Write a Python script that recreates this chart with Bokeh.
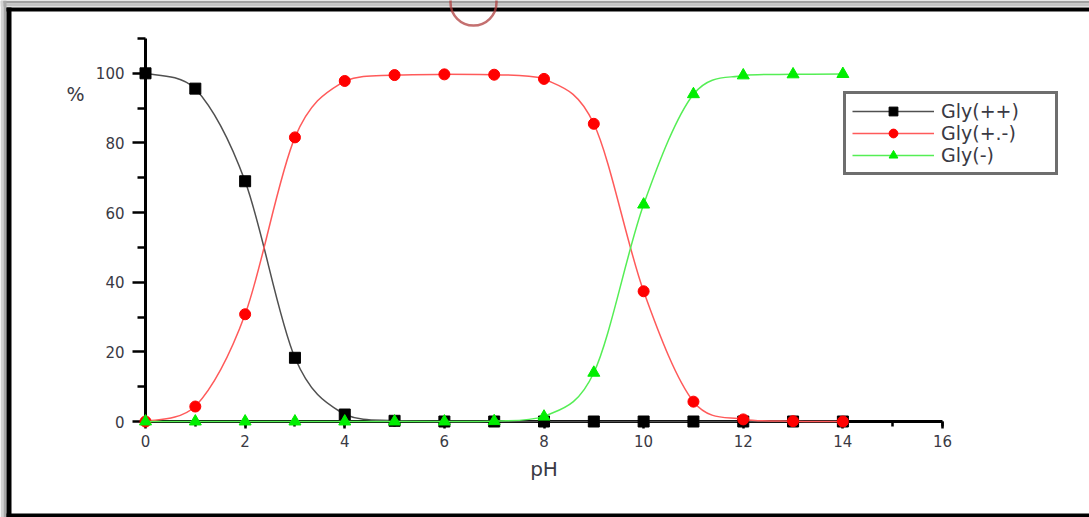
import numpy as np
from bokeh.plotting import figure
from bokeh.models import (Range1d, SingleIntervalTicker, FixedTicker, Legend, LegendItem,
                          Label, BoxAnnotation)
from bokeh.embed import file_html
from bokeh.resources import INLINE

# ---- data ----
ph = [0, 1, 2, 3, 4, 5, 6, 7, 8, 9, 10, 11, 12, 13, 14]
gly_pp = [100, 95.6, 69.0, 18.3, 2.0, 0.2, 0, 0, 0, 0, 0, 0, 0, 0, 0]
gly_zw = [0, 4.3, 30.8, 81.6, 97.8, 99.5, 99.7, 99.6, 98.4, 85.5, 37.4, 5.7, 0.6, 0.1, 0]
gly_m = [0, 0, 0, 0, 0, 0, 0, 0.1, 1.4, 14.0, 62.3, 94.0, 99.4, 99.7, 99.8]
series_names = ["Gly(++)", "Gly(+.-)", "Gly(-)"]
x_major_ticks = [0, 2, 4, 6, 8, 10, 12, 14, 16]
y_major_ticks = [0, 20, 40, 60, 80, 100]
y_minor_ticks = [10, 30, 50, 70, 90, 110]
x_bounds = (0, 16)
y_bounds = (0, 110)

FONT = "DejaVu Sans"
TXT = "#3a3a44"
W, H = 1089, 517
# pixel placement of the axes' extents in the picture
PX_L, PX_R, PX_T, PX_B = 145, 942, 38, 421
sx = (PX_R - PX_L) / (x_bounds[1] - x_bounds[0])
sy = (PX_B - PX_T) / (y_bounds[1] - y_bounds[0])
x_range = Range1d(x_bounds[0] - PX_L / sx, x_bounds[1] + (W - PX_R) / sx)
y_range = Range1d(y_bounds[0] - (H - PX_B) / sy, y_bounds[1] + PX_T / sy)

p = figure(width=W, height=H, output_backend="svg", toolbar_location=None,
           x_range=x_range, y_range=y_range,
           min_border=0, min_border_left=0, min_border_right=0,
           min_border_top=0, min_border_bottom=0,
           background_fill_color="white", border_fill_color="white")
p.outline_line_color = None
p.grid.visible = False

# axes, pinned at the data origin
xa = p.xaxis[0]
xa.ticker = SingleIntervalTicker(interval=2, num_minor_ticks=2)
xa.fixed_location = 0
xa.bounds = x_bounds
ya = p.yaxis[0]
ya.ticker = FixedTicker(ticks=y_major_ticks, minor_ticks=y_minor_ticks)
ya.fixed_location = 0
ya.bounds = y_bounds
for ax in (xa, ya):
    ax.axis_line_width = 3
    ax.axis_line_color = "black"
    ax.major_tick_line_width = 2.5
    ax.minor_tick_line_width = 2.5
    ax.major_tick_line_color = "black"
    ax.minor_tick_line_color = "black"
    ax.major_tick_in = 0
    ax.minor_tick_in = 0
    ax.major_label_text_font = FONT
    ax.major_label_text_font_size = "15px"
    ax.major_label_text_color = TXT
xa.major_tick_out = 7
xa.minor_tick_out = 5
xa.major_label_standoff = 6
xa.axis_label = "pH"
xa.axis_label_text_font = FONT
xa.axis_label_text_font_size = "20px"
xa.axis_label_text_font_style = "normal"
xa.axis_label_text_color = TXT
xa.axis_label_standoff = 7
ya.major_tick_out = 13
ya.minor_tick_out = 8
ya.major_label_standoff = 8


def bezier_parts(x, y):
    x = np.asarray(x, float)
    y = np.asarray(y, float)
    n = len(x)
    xp = np.concatenate([[x[0]], x, [x[-1]]])
    yp = np.concatenate([[y[0]], y, [y[-1]]])
    cx0 = x[:-1] + (xp[2:n + 1] - xp[0:n - 1]) / 6
    cy0 = y[:-1] + (yp[2:n + 1] - yp[0:n - 1]) / 6
    cx1 = x[1:] - (xp[3:n + 2] - xp[1:n]) / 6
    cy1 = y[1:] - (yp[3:n + 2] - yp[1:n]) / 6
    lo, hi = y.min(), y.max()
    return dict(x0=x[:-1], y0=y[:-1], x1=x[1:], y1=y[1:],
                cx0=cx0, cy0=np.clip(cy0, lo, hi), cx1=cx1, cy1=np.clip(cy1, lo, hi))


styles = [
    (gly_pp, "#505050", "black", "square", 11),
    (gly_zw, "#ff5a5a", "#ff0000", "circle", 11),
    (gly_m, "#55ee55", "#00ee00", "triangle", 12),
]
items = []
for (vals, lc, mc, mk, sz), name in zip(styles, series_names):
    b = p.bezier(line_color=lc, line_width=1.5, level="overlay", **bezier_parts(ph, vals))
    s = p.scatter(ph, vals, marker=mk, size=sz, fill_color=mc, line_color=mc, level="overlay")
    items.append(LegendItem(label=name, renderers=[b, s]))

legend = Legend(items=items, location=(843, H - 175), orientation="vertical",
                padding=6, spacing=0, margin=0, label_height=22, glyph_height=22,
                glyph_width=82, label_standoff=7, label_width=108,
                label_text_font=FONT, label_text_font_size="19px", label_text_color=TXT,
                border_line_color="#6e6e6e", border_line_width=3, border_line_alpha=1,
                background_fill_color="white", background_fill_alpha=1)
p.add_layout(legend)

p.add_layout(Label(x=75, y=93, x_units="canvas", y_units="canvas", text="%",
                   text_align="center", text_baseline="middle",
                   text_font=FONT, text_font_size="19px", text_color=TXT))

# outer picture frame
def cbox(l, r, t, b, color):
    return BoxAnnotation(left=l, right=r, top=t, bottom=b,
                         left_units="canvas", right_units="canvas",
                         top_units="canvas", bottom_units="canvas",
                         fill_color=color, fill_alpha=1, line_color=None)

p.add_layout(cbox(0, W, 0, 3, "#a0a0a0"))
p.add_layout(cbox(0, W, 3, 6, "#c4c4c4"))
p.add_layout(cbox(0, 3, 0, H, "#d2d2d2"))
p.add_layout(cbox(3, 6, 0, H, "#a8a8a8"))
p.add_layout(cbox(6, W, 7, 11, "black"))
p.add_layout(cbox(6, 11, 7, H, "black"))
p.add_layout(cbox(6, W, H - 4, H, "black"))
ring = BoxAnnotation(left=450, right=496, top=-21, bottom=25,
                     left_units="canvas", right_units="canvas",
                     top_units="canvas", bottom_units="canvas",
                     fill_color=None, line_color="#b04040", line_alpha=0.75,
                     line_width=2.5, border_radius=23)
p.add_layout(ring)

open("out.html", "w").write(file_html(p, INLINE))
